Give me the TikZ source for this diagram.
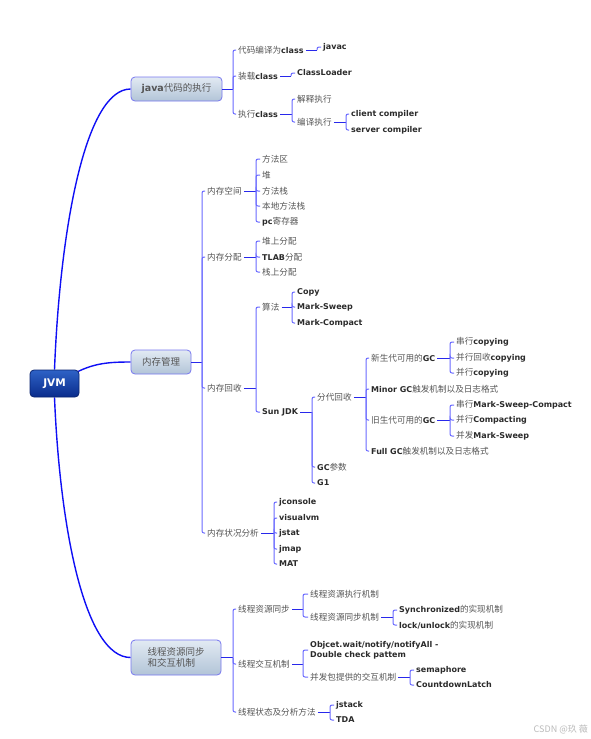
\documentclass[tikz,border=0pt]{standalone}
\usepackage{fontspec}
\setmainfont{DejaVu Sans}
\newfontfamily\cjk{Noto Sans CJK SC}
\usetikzlibrary{backgrounds}
\definecolor{zhgray}{HTML}{555555}
\definecolor{engray}{HTML}{2B2B2B}
\definecolor{brblue}{RGB}{105,105,255}
\definecolor{jnblue}{RGB}{40,40,235}
\definecolor{mainblue}{RGB}{15,15,245}
\definecolor{topborder}{RGB}{120,120,240}
\definecolor{topA}{HTML}{E2EAF3}
\definecolor{topB}{HTML}{B2C4D7}
\definecolor{rootA}{HTML}{2E62C6}
\definecolor{rootB}{HTML}{0A2C8C}
\definecolor{rootborder}{HTML}{0A2470}
\definecolor{wmgray}{HTML}{BBBBBB}
\newcommand\zh[1]{{\cjk\color{zhgray}#1}}
\newcommand\en[1]{{\fontsize{8}{10}\selectfont\bfseries\color{engray}#1}}
\newcommand\brk[3]{%
  \coordinate (#1j) at (#2,0 |- #1.east);
  \draw[joinline] (#1.east) -- (#1j);
  \foreach \ch in {#3}{\draw[brline] (#1j) |- (\ch.west);}
}
\tikzset{
  leaf/.style={anchor=west, inner xsep=2pt, inner ysep=1pt, font=\fontsize{8.6}{10}\selectfont},
  topic/.style={draw=topborder, line width=0.8pt, rounded corners=4pt, top color=topA, bottom color=topB,
    font=\fontsize{9.5}{12}\selectfont, text=zhgray, inner sep=0pt},
  rootbox/.style={draw=rootborder, line width=0.8pt, rounded corners=4pt, top color=rootA, bottom color=rootB,
    font=\fontsize{10.5}{12}\selectfont\bfseries, text=white, inner sep=0pt, minimum width=49pt, minimum height=27pt},
  brline/.style={draw=brblue, line width=1pt, rounded corners=2pt},
  joinline/.style={draw=jnblue, line width=1pt},
  mainline/.style={draw=mainblue, line width=1.4pt},
}
\begin{document}
\begin{tikzpicture}[x=1pt,y=-1pt]
\useasboundingbox (0,0) rectangle (591,739);

% root and topics
\node[rootbox] (jvm) at (54.5,383.5) {JVM};
\node[topic, minimum width=91pt, minimum height=24pt] (java) at (176.5,89) {{\bfseries\color{engray!80}java}{\cjk 代码的执行}};
\node[topic, minimum width=60pt, minimum height=24pt] (mem) at (161,362) {{\cjk 内存管理}};
\node[topic, minimum width=90pt, minimum height=35pt, align=left] (thr) at (176,657.5) {{\cjk 线程资源同步}\\[-1pt]{\cjk 和交互机制}\hspace*{9.5pt}};

\begin{scope}[on background layer]
\fill[white] (0,0) rectangle (591,739);
\draw[mainline] (jvm.north) .. controls (60,230) and (85,89) .. (java.west);
\draw[mainline] (jvm.south) .. controls (60,530) and (85,657.5) .. (thr.west);
\draw[mainline] (77,372) .. controls (95,363) and (110,362) .. (mem.west);
\end{scope}

% java branch
\node[leaf] (a1) at (236,50) {\zh{代码编译为}\en{class}};
\node[leaf] (a2) at (236,76) {\zh{装载}\en{class}};
\node[leaf] (a3) at (236,114) {\zh{执行}\en{class}};
\node[leaf] (a11) at (321,47) {\en{javac}};
\node[leaf] (a21) at (295,73) {\en{ClassLoader}};
\node[leaf] (a31) at (295,99) {\zh{解释执行}};
\node[leaf] (a32) at (295,122) {\zh{编译执行}};
\node[leaf] (a321) at (349,114) {\en{client compiler}};
\node[leaf] (a322) at (349,130) {\en{server compiler}};

% memory branch
\node[leaf] (b1) at (205,191) {\zh{内存空间}};
\node[leaf] (b2) at (205,257) {\zh{内存分配}};
\node[leaf] (b3) at (205,388) {\zh{内存回收}};
\node[leaf] (b4) at (205,533) {\zh{内存状况分析}};
\node[leaf] (b11) at (260,159) {\zh{方法区}};
\node[leaf] (b12) at (260,175) {\zh{堆}};
\node[leaf] (b13) at (260,191) {\zh{方法栈}};
\node[leaf] (b14) at (260,206) {\zh{本地方法栈}};
\node[leaf] (b15) at (260,222) {\en{pc}\zh{寄存器}};
\node[leaf] (b21) at (260,241) {\zh{堆上分配}};
\node[leaf] (b22) at (260,257) {\en{TLAB}\zh{分配}};
\node[leaf] (b23) at (260,272) {\zh{栈上分配}};
\node[leaf] (b31) at (260,307) {\zh{算法}};
\node[leaf] (b32) at (260,412) {\en{Sun JDK}};
\node[leaf] (b311) at (295,292) {\en{Copy}};
\node[leaf] (b312) at (295,307) {\en{Mark-Sweep}};
\node[leaf] (b313) at (295,323) {\en{Mark-Compact}};
\node[leaf] (b321) at (315,397) {\zh{分代回收}};
\node[leaf] (b322) at (315,467) {\en{GC}\zh{参数}};
\node[leaf] (b323) at (315,483) {\en{G1}};
\node[leaf] (c1) at (369,358) {\zh{新生代可用的}\en{GC}};
\node[leaf] (c2) at (369,389) {\en{Minor GC}\zh{触发机制以及日志格式}};
\node[leaf] (c3) at (369,420) {\zh{旧生代可用的}\en{GC}};
\node[leaf] (c4) at (369,451) {\en{Full GC}\zh{触发机制以及日志格式}};
\node[leaf] (c11) at (454,342) {\zh{串行}\en{copying}};
\node[leaf] (c12) at (454,358) {\zh{并行回收}\en{copying}};
\node[leaf] (c13) at (454,373) {\zh{并行}\en{copying}};
\node[leaf] (c31) at (454,405) {\zh{串行}\en{Mark-Sweep-Compact}};
\node[leaf] (c32) at (454,420) {\zh{并行}\en{Compacting}};
\node[leaf] (c33) at (454,436) {\zh{并发}\en{Mark-Sweep}};
\node[leaf] (b41) at (277,502) {\en{jconsole}};
\node[leaf] (b42) at (277,518) {\en{visualvm}};
\node[leaf] (b43) at (277,533) {\en{jstat}};
\node[leaf] (b44) at (277,549) {\en{jmap}};
\node[leaf] (b45) at (277,564) {\en{MAT}};

% thread branch
\node[leaf] (d1) at (236,609) {\zh{线程资源同步}};
\node[leaf] (d2) at (236,664) {\zh{线程交互机制}};
\node[leaf] (d3) at (236,712) {\zh{线程状态及分析方法}};
\node[leaf] (d11) at (308,594) {\zh{线程资源执行机制}};
\node[leaf] (d12) at (308,617) {\zh{线程资源同步机制}};
\node[leaf] (d121) at (397,610) {\en{Synchronized}\zh{的实现机制}};
\node[leaf] (d122) at (397,625) {\en{lock/unlock}\zh{的实现机制}};
\node[leaf, align=left] (d21) at (308,650) {\en{Objcet.wait/notify/notifyAll -}\\\en{Double check pattem}};
\node[leaf] (d22) at (308,677) {\zh{并发包提供的交互机制}};
\node[leaf] (d221) at (414,670) {\en{semaphore}};
\node[leaf] (d222) at (414,685) {\en{CountdownLatch}};
\node[leaf] (d31) at (334,705) {\en{jstack}};
\node[leaf] (d32) at (334,720) {\en{TDA}};

% brackets
\brk{java}{233}{a1,a2,a3}
\brk{a1}{317}{a11}
\brk{a2}{291}{a21}
\brk{a3}{292}{a31,a32}
\brk{a32}{346}{a321,a322}
\brk{mem}{202}{b1,b2,b3,b4}
\brk{b1}{256}{b11,b12,b13,b14,b15}
\brk{b2}{256}{b21,b22,b23}
\brk{b3}{256}{b31,b32}
\brk{b31}{292}{b311,b312,b313}
\brk{b32}{312}{b321,b322,b323}
\brk{b321}{366}{c1,c2,c3,c4}
\brk{c1}{450}{c11,c12,c13}
\brk{c3}{450}{c31,c32,c33}
\brk{b4}{274}{b41,b42,b43,b44,b45}
\brk{thr}{233}{d1,d2,d3}
\brk{d1}{303}{d11,d12}
\brk{d12}{393}{d121,d122}
\brk{d2}{303}{d21,d22}
\brk{d22}{410}{d221,d222}
\brk{d3}{330}{d31,d32}

% watermark
\node[anchor=east, inner sep=0pt, font=\cjk\fontsize{9}{10}\selectfont, text=wmgray] (wm) at (588,729) {CSDN @玖 薇};
\end{tikzpicture}
\end{document}
